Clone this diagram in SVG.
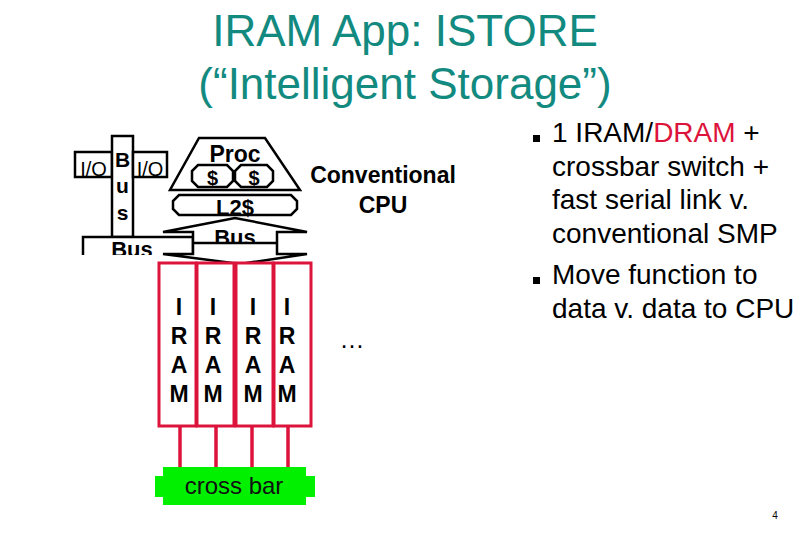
<svg xmlns="http://www.w3.org/2000/svg" width="810" height="540" viewBox="0 0 810 540">
<defs>
<style>
.t{font-family:"Liberation Sans",Arial,sans-serif}
.b{font-weight:bold}
.sh{fill:#fff;stroke:#000;stroke-width:2.5;stroke-linejoin:miter}
.iram{fill:#fff;stroke:#dc143c;stroke-width:3}
.conn{stroke:#dc143c;stroke-width:3.5;fill:none}
.title{fill:#138a7f;font-size:44px}
.bl{font-size:28px;fill:#000}
.il{font-size:23px;font-weight:bold;text-anchor:middle;fill:#000}
</style>
<clipPath id="clipLeftBus"><rect x="0" y="0" width="810" height="255"/></clipPath>
<clipPath id="clipCenterBus"><rect x="0" y="0" width="810" height="242"/></clipPath>
</defs>
<rect width="810" height="540" fill="#fff"/>

<g id="title" class="t title" text-anchor="middle">
<text x="405" y="46">IRAM App: ISTORE</text>
<text x="405" y="99">(“Intelligent Storage”)</text>
</g>

<g id="io-left">
<rect class="sh" x="75" y="152" width="37" height="25"/>
<text class="t" x="93.5" y="176" font-size="20" text-anchor="middle">I/O</text>
</g>
<g id="bus-vertical">
<rect class="sh" x="112" y="136" width="21" height="101"/>
<text class="t b" x="122.5" y="167" font-size="21" text-anchor="middle">B</text>
<text class="t b" x="122.5" y="193" font-size="21" text-anchor="middle">u</text>
<text class="t b" x="122.5" y="220" font-size="21" text-anchor="middle">s</text>
</g>
<g id="io-right">
<rect class="sh" x="133" y="152" width="34" height="25"/>
<text class="t" x="150" y="176" font-size="20" text-anchor="middle">I/O</text>
</g>
<g id="bus-left" clip-path="url(#clipLeftBus)">
<rect class="sh" x="83" y="237" width="110" height="30"/>
<text class="t b" x="132" y="257" font-size="22" text-anchor="middle">Bus</text>
</g>

<g id="proc">
<polygon class="sh" points="199,138 265,138 300,190 170,190"/>
<text class="t b" x="235" y="162" font-size="23" text-anchor="middle">Proc</text>
</g>
<g id="cache1">
<polygon class="sh" points="198,165 227,165 233,171 233,181 227,187 198,187 192,181 192,171"/>
<text class="t b" x="212.5" y="185" font-size="20" text-anchor="middle">$</text>
</g>
<g id="cache2">
<polygon class="sh" points="241,165 267,165 273,171 273,181 267,187 241,187 235,181 235,171"/>
<text class="t b" x="254" y="185" font-size="20" text-anchor="middle">$</text>
</g>
<g id="l2">
<polygon class="sh" points="179,195 291,195 297,201 297,209 291,215 179,215 173,209 173,201"/>
<text class="t b" x="235" y="215" font-size="22" text-anchor="middle">L2$</text>
</g>
<g id="bus-center">
<polygon class="sh" points="163,232 235,218 307,232 277,232 277,254 307,254 240,264 163,254 193,254 193,232"/>
<text class="t b" x="235" y="245" font-size="22" text-anchor="middle" clip-path="url(#clipCenterBus)">Bus</text>
<line x1="193" y1="243" x2="277" y2="243" stroke="#000" stroke-width="2.5"/>
</g>

<g id="cpu-label" class="t b" font-size="23" text-anchor="middle">
<text x="383" y="183">Conventional</text>
<text x="383" y="213">CPU</text>
</g>

<g id="connectors">
<line class="conn" x1="180" y1="426" x2="180" y2="468"/>
<line class="conn" x1="216" y1="426" x2="216" y2="468"/>
<line class="conn" x1="252" y1="426" x2="252" y2="468"/>
<line class="conn" x1="288" y1="426" x2="288" y2="468"/>
</g>

<g id="iram1">
<rect class="iram" x="159" y="263" width="37" height="163"/>
<text class="t il" x="179"><tspan x="179" y="315">I</tspan><tspan x="179" y="344">R</tspan><tspan x="179" y="373">A</tspan><tspan x="179" y="402">M</tspan></text>
</g>
<g id="iram2">
<rect class="iram" x="197" y="263" width="37" height="163"/>
<text class="t il" x="213"><tspan x="213" y="315">I</tspan><tspan x="213" y="344">R</tspan><tspan x="213" y="373">A</tspan><tspan x="213" y="402">M</tspan></text>
</g>
<g id="iram3">
<rect class="iram" x="236" y="263" width="37" height="163"/>
<text class="t il" x="253"><tspan x="253" y="315">I</tspan><tspan x="253" y="344">R</tspan><tspan x="253" y="373">A</tspan><tspan x="253" y="402">M</tspan></text>
</g>
<g id="iram4">
<rect class="iram" x="274" y="263" width="37" height="163"/>
<text class="t il" x="287"><tspan x="287" y="315">I</tspan><tspan x="287" y="344">R</tspan><tspan x="287" y="373">A</tspan><tspan x="287" y="402">M</tspan></text>
</g>

<g id="crossbar">
<polygon fill="#00f000" points="163,467 306,467 306,476 315,476 315,497 306,497 306,505 163,505 163,497 155,497 155,476 163,476"/>
<text class="t" x="234" y="494" font-size="24" text-anchor="middle" fill="#111">cross bar</text>
</g>

<g id="ellipsis">
<text class="t" x="352" y="348" font-size="25" text-anchor="middle">…</text>
</g>

<g id="bullets" class="t bl">
<rect x="533" y="135" width="7" height="7" fill="#000"/>
<text x="552" y="142">1 IRAM/<tspan fill="#dc143c">DRAM</tspan> +</text>
<text x="552" y="176">crossbar switch +</text>
<text x="552" y="209">fast serial link v.</text>
<text x="552" y="243">conventional SMP</text>
<rect x="533" y="277" width="7" height="7" fill="#000"/>
<text x="552" y="284">Move function to</text>
<text x="552" y="318">data v. data to CPU</text>
</g>

<g id="page-number">
<text class="t" x="775" y="519" font-size="10" text-anchor="middle">4</text>
</g>
</svg>
